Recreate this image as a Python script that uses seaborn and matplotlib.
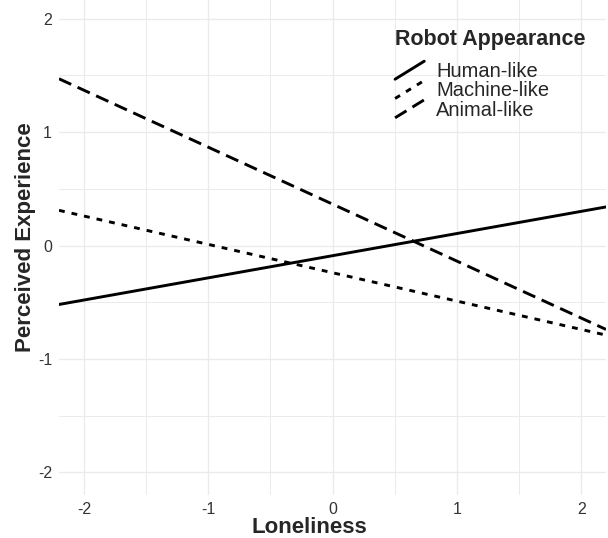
import numpy as np
import pandas as pd
import seaborn as sns
import matplotlib.pyplot as plt
from matplotlib.legend_handler import HandlerLine2D
from matplotlib.lines import Line2D

# simple slopes (values at the two ends of the x range)
loneliness = [-2.2, 2.2]
human_like = [-0.52, 0.34]
machine_like = [0.31, -0.79]
animal_like = [1.47, -0.74]
groups = ["Human-like", "Machine-like", "Animal-like"]

rows = []
for g, ys in zip(groups, [human_like, machine_like, animal_like]):
    for x, y in zip(loneliness, ys):
        rows.append({"Loneliness": x, "Perceived Experience": y, "Robot Appearance": g})
df = pd.DataFrame(rows)

sns.set_style("white")
plt.rcParams['font.family'] = ['Liberation Sans', 'DejaVu Sans']
plt.rcParams['axes.unicode_minus'] = False


class DiagonalHandler(HandlerLine2D):
    # ggplot abline style key: a diagonal line
    def create_artists(self, legend, orig_handle, xdescent, ydescent,
                       width, height, fontsize, trans):
        line = Line2D([-xdescent, -xdescent + width], [-ydescent, -ydescent + height])
        self.update_prop(line, orig_handle, legend)
        line.set_transform(trans)
        return [line]


fig = plt.figure(figsize=(6.08, 5.38), dpi=100)
ax = fig.add_axes([59 / 608, 43 / 538, 547 / 608, 499 / 538])

dashes = {"Human-like": "", "Machine-like": (2, 2.4), "Animal-like": (4.6, 2.4)}
sns.lineplot(data=df, x="Loneliness", y="Perceived Experience", style="Robot Appearance",
             style_order=groups, dashes=dashes, color="black", linewidth=2.1, ax=ax)

ax.set_xlim(-2.2, 2.2)
ax.set_ylim(-2.2, 2.2)
ax.set_xticks([-2, -1, 0, 1, 2])
ax.set_yticks([-2, -1, 0, 1, 2])
ax.set_xticks(np.arange(-1.5, 2.0, 1.0), minor=True)
ax.set_yticks(np.arange(-1.5, 2.0, 1.0), minor=True)
ax.grid(True, which="major", color="#ebebeb", linewidth=1.0)
ax.grid(True, which="minor", color="#ebebeb", linewidth=0.7)
ax.set_axisbelow(True)
for s in ax.spines.values():
    s.set_visible(False)
ax.tick_params(which="both", length=0)
ax.tick_params(axis="x", pad=5, labelsize=11.5, labelcolor="#333333")
ax.tick_params(axis="y", pad=5, labelsize=11.5, labelcolor="#333333")

ax.set_xlabel("Loneliness", fontsize=16, fontweight="bold")
ax.set_ylabel("Perceived Experience", fontsize=16, fontweight="bold")
ax.xaxis.set_label_coords(0.457, -0.066)
ax.xaxis.label.set_va("center")
ax.yaxis.set_label_coords(-0.062, 0.517)
ax.yaxis.label.set_va("center")

handles, labels = ax.get_legend_handles_labels()
ax.get_legend().remove()
leg = fig.legend(handles, labels, title="Robot Appearance", loc="upper left",
                 bbox_to_anchor=(385 / 608, 1 - 19 / 538), frameon=False,
                 fontsize=14.5, title_fontproperties={"weight": "bold", "size": 15.5},
                 handlelength=1.45, handleheight=1.0, labelspacing=-0.03,
                 handletextpad=0.6, borderpad=0, alignment="left",
                 handler_map={Line2D: DiagonalHandler()})
leg._legend_box.sep = 8

fig.savefig("out.png", dpi=100)
